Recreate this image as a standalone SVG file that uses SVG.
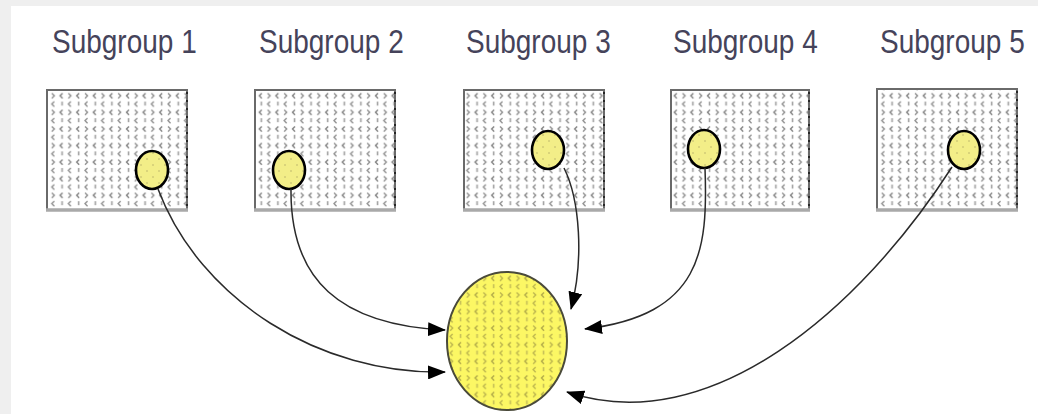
<svg xmlns="http://www.w3.org/2000/svg" width="1038" height="414" viewBox="0 0 1038 414">
  <defs>
    <!-- speckled hatch used inside the subgroup boxes -->
    <pattern id="speckle" width="16.6" height="16.6" patternUnits="userSpaceOnUse">
      <path d="M4.5 2 l-2.5 2.5 l2.5 2.5" fill="none" stroke="#8f8f8f" stroke-width="1.4"/>
      <path d="M12.3 2 v4" fill="none" stroke="#a0a0a0" stroke-width="1.6"/>
      <path d="M2 10.3 l2.5 2.5 l-2.5 2.5" fill="none" stroke="#8f8f8f" stroke-width="1.4"/>
      <path d="M12.8 10.3 l-2.5 2.5 l2.5 2.5" fill="none" stroke="#7f7f7f" stroke-width="1.4"/>
    </pattern>
    <!-- speckle over yellow for the pooled circle -->
    <pattern id="speckleY" width="16.6" height="16.6" patternUnits="userSpaceOnUse">
      <rect width="16.6" height="16.6" fill="#fcf764"/>
      <path d="M4.5 2 l-2.5 2.5 l2.5 2.5" fill="none" stroke="#bdb64e" stroke-width="1.4"/>
      <path d="M12.3 2 v4" fill="none" stroke="#c6bf58" stroke-width="1.6"/>
      <path d="M2 10.3 l2.5 2.5 l-2.5 2.5" fill="none" stroke="#bdb64e" stroke-width="1.4"/>
      <path d="M12.8 10.3 l-2.5 2.5 l2.5 2.5" fill="none" stroke="#b0a948" stroke-width="1.4"/>
    </pattern>
    <pattern id="speckleS" width="12" height="12" patternUnits="userSpaceOnUse">
      <rect width="12" height="12" fill="#f3ee88"/>
      <path d="M3 2 v2" stroke="#cdc674" stroke-width="1.3"/>
      <path d="M9 8 v2" stroke="#cdc674" stroke-width="1.3"/>
    </pattern>
    <marker id="arrow" viewBox="0 0 18 14" refX="17" refY="7" markerWidth="18" markerHeight="14" markerUnits="userSpaceOnUse" orient="auto">
      <path d="M0 0 L18 7 L0 14 Z" fill="#000"/>
    </marker>
  </defs>
  <style>
    .label { font-family: "Liberation Sans", Arial, sans-serif; font-size: 28px; fill: #45435a; }
    .box { fill: url(#speckle); stroke: #6a6a6a; stroke-width: 2; }
    .boxBase { stroke: #a9a9a9; stroke-width: 3.5; }
    .boxSide { stroke: #111; stroke-width: 1.5; stroke-dasharray: 2 6; }
    .member { fill: url(#speckleS); stroke: #000; stroke-width: 2.6; }
    .edge { fill: none; stroke: #2a2a2a; stroke-width: 1.5; marker-end: url(#arrow); }
  </style>

  <!-- page -->
  <rect width="1038" height="414" fill="#efefef"/>
  <rect x="11" y="6" width="1027" height="408" fill="#ffffff"/>

  <g id="subgroup1">
    <text class="label" transform="translate(52,53) scale(1,1.2)">Subgroup 1</text>
    <rect class="box" x="47" y="90" width="140" height="120"/>
    <line class="boxSide" x1="187" y1="92" x2="187" y2="208"/>
    <line class="boxBase" x1="46" y1="210" x2="188" y2="210"/>
    <ellipse class="member" cx="152" cy="170" rx="16" ry="19"/>
  </g>

  <g id="subgroup2">
    <text class="label" transform="translate(259,53) scale(1,1.2)">Subgroup 2</text>
    <rect class="box" x="255" y="90" width="140" height="120"/>
    <line class="boxSide" x1="395" y1="92" x2="395" y2="208"/>
    <line class="boxBase" x1="254" y1="210" x2="396" y2="210"/>
    <ellipse class="member" cx="289" cy="170" rx="16" ry="19"/>
  </g>

  <g id="subgroup3">
    <text class="label" transform="translate(466,53) scale(1,1.2)">Subgroup 3</text>
    <rect class="box" x="464" y="90" width="140" height="120"/>
    <line class="boxSide" x1="604" y1="92" x2="604" y2="208"/>
    <line class="boxBase" x1="463" y1="210" x2="605" y2="210"/>
    <ellipse class="member" cx="548" cy="150" rx="16" ry="19"/>
  </g>

  <g id="subgroup4">
    <text class="label" transform="translate(673,53) scale(1,1.2)">Subgroup 4</text>
    <rect class="box" x="671" y="90" width="138" height="120"/>
    <line class="boxSide" x1="809" y1="92" x2="809" y2="208"/>
    <line class="boxBase" x1="670" y1="210" x2="810" y2="210"/>
    <ellipse class="member" cx="704" cy="149" rx="16" ry="19"/>
  </g>

  <g id="subgroup5">
    <text class="label" transform="translate(880,53) scale(1,1.2)">Subgroup 5</text>
    <rect class="box" x="877" y="89" width="140" height="121"/>
    <line class="boxSide" x1="1017" y1="91" x2="1017" y2="208"/>
    <line class="boxBase" x1="876" y1="210" x2="1018" y2="210"/>
    <ellipse class="member" cx="964" cy="150" rx="16" ry="19"/>
  </g>

  <g id="pool">
    <ellipse cx="507" cy="341" rx="60" ry="69" fill="url(#speckleY)" stroke="#4a4a3a" stroke-width="2"/>
  </g>

  <g id="connectors">
    <path class="edge" d="M158,189 C200,300 320,375 445,372"/>
    <path class="edge" d="M291,189 C290,280 340,325 445,330"/>
    <path class="edge" d="M564,168 C580,200 584,260 571,309"/>
    <path class="edge" d="M705,168 C708,250 702,315 585,329"/>
    <path class="edge" d="M952,167 C860,310 710,440 567,392"/>
  </g>
</svg>
